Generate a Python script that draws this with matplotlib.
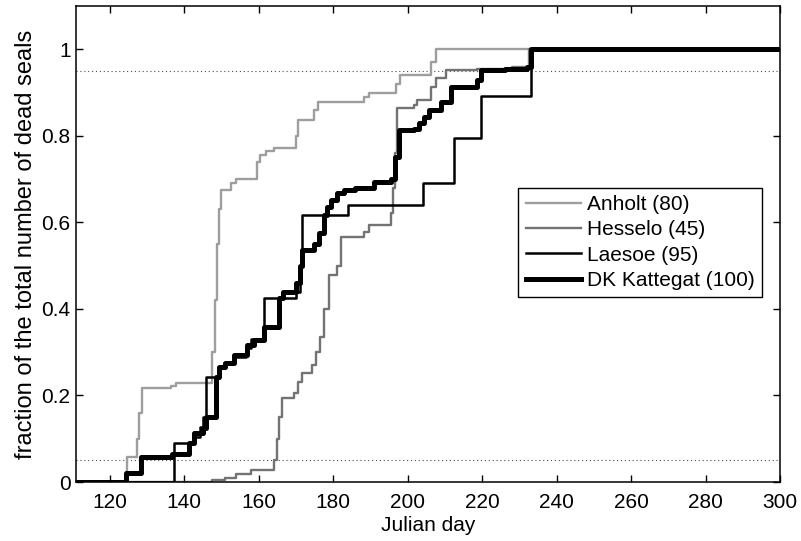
import numpy as np
import matplotlib
matplotlib.use('Agg')
import matplotlib.pyplot as plt

plt.rcParams['font.family'] = ['Liberation Sans', 'DejaVu Sans']

# cumulative fraction of dead seals per site, step values (day, fraction)
anholt_day = [111, 124.6, 127.4, 128.0, 128.8, 136.4, 137.7, 147.6, 148.2, 148.8,
              149.4, 149.8, 152.5, 153.8, 159.6, 160.5, 162.0, 164.0, 170.0, 170.7,
              174.8, 176.0, 188.2, 189.5, 196.8, 198.0, 206.2, 207.5, 300]
anholt_frac = [0, 0.058, 0.10, 0.16, 0.217, 0.222, 0.228, 0.30, 0.42, 0.55,
               0.63, 0.674, 0.69, 0.70, 0.74, 0.755, 0.765, 0.771, 0.80, 0.836,
               0.86, 0.878, 0.89, 0.898, 0.92, 0.94, 0.97, 1.0, 1.0]

hesselo_day = [111, 147.6, 151.0, 154.0, 157.9, 164.0, 164.8, 165.6, 166.4, 169.5,
               170.6, 171.7, 174.4, 175.5, 176.6, 177.5, 178.8, 181.1, 182.0, 188.2,
               189.5, 195.4, 196.0, 196.6, 197.2, 201.7, 202.6, 206.2, 207.5, 210.2,
               218.7, 228.0, 232.5, 300]
hesselo_frac = [0, 0.005, 0.01, 0.018, 0.028, 0.05, 0.10, 0.15, 0.194, 0.205,
                0.23, 0.252, 0.27, 0.30, 0.336, 0.40, 0.478, 0.50, 0.567, 0.578,
                0.594, 0.621, 0.68, 0.76, 0.864, 0.87, 0.882, 0.913, 0.933, 0.951,
                0.955, 0.96, 1.0, 1.0]

laesoe_day = [111, 137.2, 142.6, 144.3, 145.2, 145.8, 149.3, 151.0, 153.0, 156.5,
              158.0, 161.4, 169.9, 171.0, 171.7, 184.0, 204.0, 212.4, 219.6, 233.0, 300]
laesoe_frac = [0, 0.09, 0.105, 0.126, 0.15, 0.243, 0.266, 0.275, 0.29, 0.31,
               0.33, 0.425, 0.44, 0.50, 0.617, 0.64, 0.69, 0.794, 0.892, 1.0, 1.0]

kattegat_day = [111, 124.3, 128.3, 136.8, 141.3, 142.6, 145.0, 145.8, 148.5, 149.3,
                151.0, 153.3, 157.0, 158.7, 161.4, 165.4, 166.5, 169.9, 171.0, 171.7,
                174.8, 176.1, 177.6, 178.4, 179.5, 181.0, 183.0, 186.0, 190.9, 195.4,
                196.5, 197.6, 201.7, 203.0, 204.5, 205.6, 208.9, 211.6, 218.7, 219.6,
                226.0, 232.1, 233.0, 300]
kattegat_frac = [0, 0.02, 0.058, 0.065, 0.09, 0.113, 0.125, 0.15, 0.243, 0.266,
                 0.275, 0.293, 0.316, 0.328, 0.359, 0.425, 0.44, 0.46, 0.50, 0.536,
                 0.55, 0.575, 0.617, 0.635, 0.651, 0.667, 0.674, 0.679, 0.693, 0.70,
                 0.75, 0.813, 0.815, 0.829, 0.843, 0.859, 0.878, 0.913, 0.93, 0.951,
                 0.955, 0.959, 1.0, 1.0]

labels = ['Anholt (80)', 'Hesselo (45)', 'Laesoe (95)', 'DK Kattegat (100)']
ref_levels = [0.05, 0.95]
xticks = [120, 140, 160, 180, 200, 220, 240, 260, 280, 300]
yticks = [0, 0.2, 0.4, 0.6, 0.8, 1]
ytick_labels = ['0', '0.2', '0.4', '0.6', '0.8', '1']

fig = plt.figure(figsize=(8.01, 5.41), dpi=100)
ax = fig.add_axes([0.095, 0.109, 0.879, 0.880])

# 5% / 95% reference levels
for lev in ref_levels:
    ax.axhline(lev, color='0.3', lw=0.8, ls=(0, (1, 2.5)), zorder=1)

ax.plot(anholt_day, anholt_frac, drawstyle='steps-post', color='0.62', lw=1.7, label=labels[0])
ax.plot(hesselo_day, hesselo_frac, drawstyle='steps-post', color='0.45', lw=1.7, label=labels[1])
ax.plot(laesoe_day, laesoe_frac, drawstyle='steps-post', color='black', lw=1.8, label=labels[2])
ax.plot(kattegat_day, kattegat_frac, drawstyle='steps-post', color='black', lw=3.6, label=labels[3])

ax.set_xlim(111, 300)
ax.set_ylim(0, 1.1)
ax.set_xticks(xticks)
ax.set_yticks(yticks)
ax.set_yticklabels(ytick_labels)
ax.tick_params(direction='in', length=5, width=1, top=True, right=True, labelsize=15)
ax.tick_params(axis='x', pad=8)
ax.tick_params(axis='y', pad=4)
for sp in ax.spines.values():
    sp.set_linewidth(1.1)

ax.set_xlabel('Julian day', fontsize=15, labelpad=3)
ax.set_ylabel('fraction of the total number of dead seals', fontsize=17, labelpad=3)

leg = ax.legend(loc='upper left', bbox_to_anchor=(0.628, 0.618), fontsize=15, frameon=True,
                fancybox=False, edgecolor='black', framealpha=1, borderpad=0.35,
                labelspacing=0.3, handlelength=2.65, handletextpad=0.3, borderaxespad=0)
leg.get_frame().set_linewidth(1.0)

fig.savefig('out.png', dpi=100)
